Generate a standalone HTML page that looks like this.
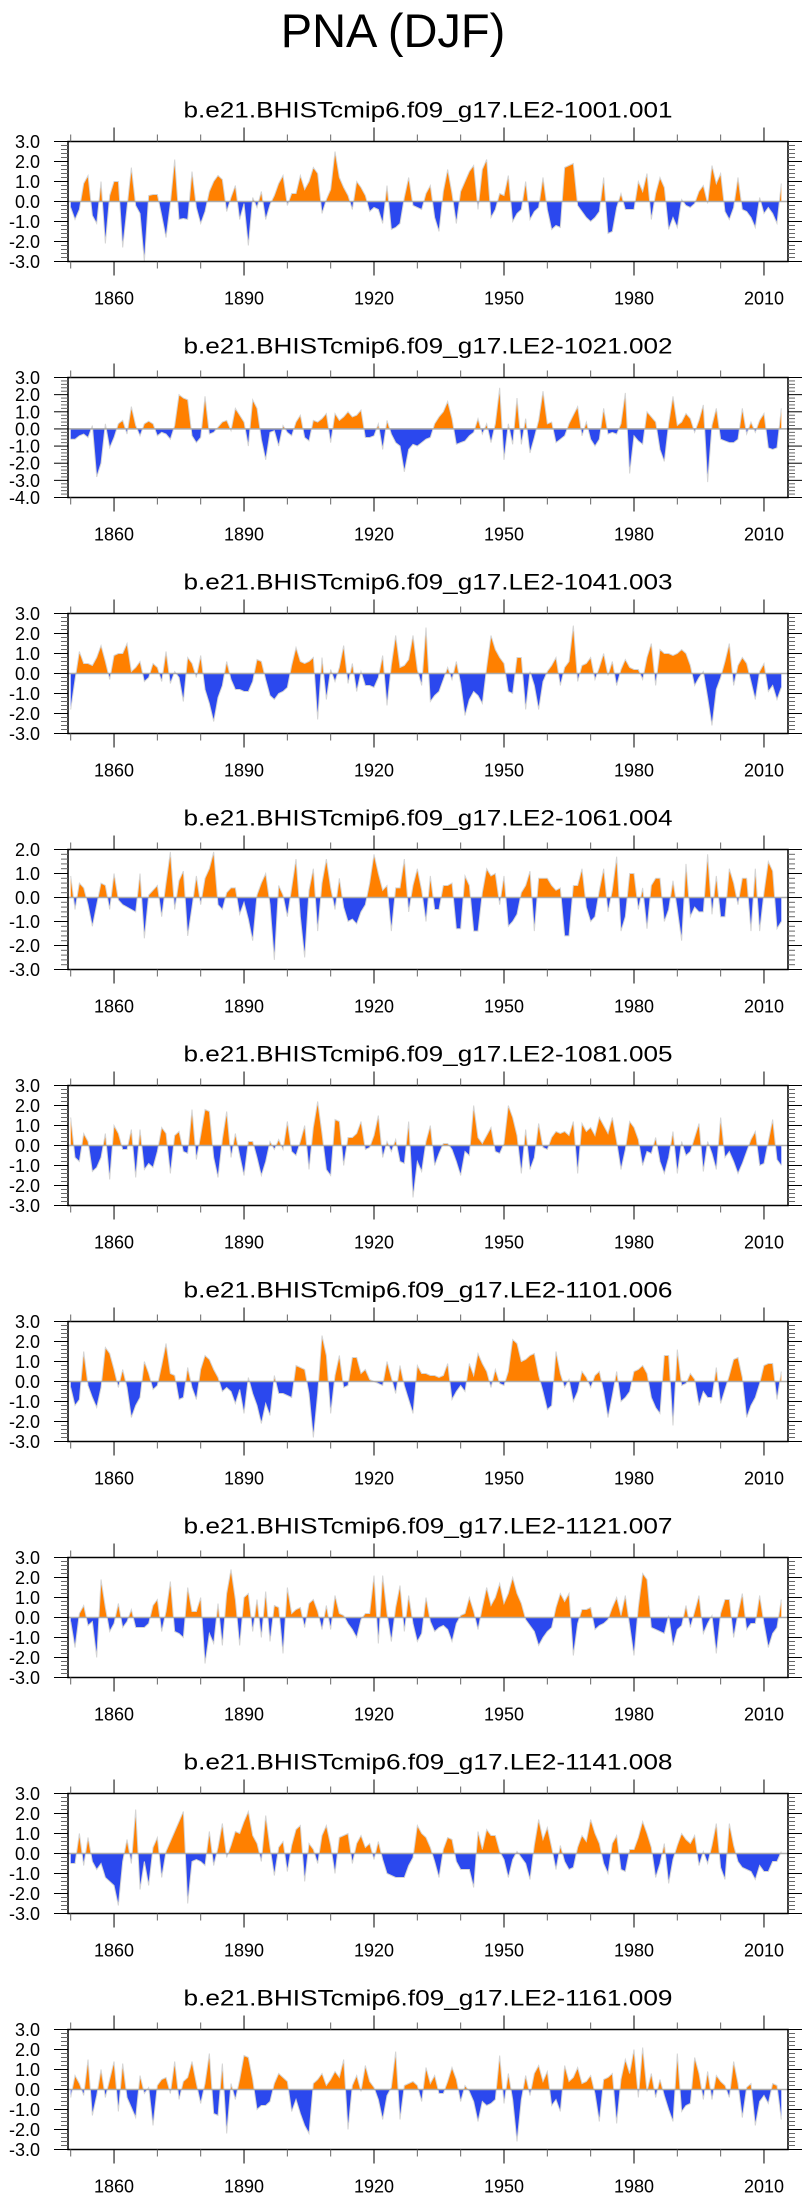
<!DOCTYPE html>
<html><head><meta charset="utf-8"><title>PNA (DJF)</title>
<style>
html,body{margin:0;padding:0;background:#fff;}
svg{display:block;font-family:"Liberation Sans",Arial,sans-serif;}
</style></head>
<body>
<svg id="chart" width="811" height="2201" viewBox="0 0 811 2201" xmlns="http://www.w3.org/2000/svg">
<text x="393" y="47" font-size="47" text-anchor="middle" fill="#000">PNA (DJF)</text>
</svg>
<script>
const runNames = ["b.e21.BHISTcmip6.f09_g17.LE2-1001.001","b.e21.BHISTcmip6.f09_g17.LE2-1021.002","b.e21.BHISTcmip6.f09_g17.LE2-1041.003","b.e21.BHISTcmip6.f09_g17.LE2-1061.004","b.e21.BHISTcmip6.f09_g17.LE2-1081.005","b.e21.BHISTcmip6.f09_g17.LE2-1101.006","b.e21.BHISTcmip6.f09_g17.LE2-1121.007","b.e21.BHISTcmip6.f09_g17.LE2-1141.008","b.e21.BHISTcmip6.f09_g17.LE2-1161.009"];
const yMaxes = [3,3,3,2,3,3,3,3,3];
const yMins = [-3,-4,-3,-3,-3,-3,-3,-3,-3];
const xTickYears = [1850,1860,1870,1880,1890,1900,1910,1920,1930,1940,1950,1960,1970,1980,1990,2000,2010];
const xLabelYears = [1860,1890,1920,1950,1980,2010];
const firstYear = 1850;

const vals1 = [-0.3,-0.9,-0.4,0.9,1.3,-0.7,-1.1,1.0,-2.1,0.3,1.0,1.0,-2.3,-0.3,1.7,-0.2,-0.6,-3.0,0.3,0.35,0.35,-0.7,-1.8,-0.1,2.1,-0.9,-0.85,-0.9,1.5,-0.3,-1.1,-0.5,0.5,1.0,1.3,1.1,-0.5,0.2,0.8,-0.9,-0.1,-2.2,0.2,-0.3,0.5,-0.9,-0.15,0.3,0.9,1.3,-0.2,0.4,0.4,1.3,0.6,1.0,1.7,1.4,-0.6,0.1,0.6,2.5,1.2,0.7,0.3,-0.4,1.0,0.7,0.3,-0.5,-0.3,-0.4,-1.1,0.8,-1.4,-1.3,-1.1,0.2,1.2,-0.2,-0.3,-0.4,0.4,0.8,-0.8,-1.5,0.5,1.6,0.4,-1.1,0.5,1.0,1.5,1.8,-0.4,1.6,2.1,-0.8,-0.4,0.4,0.3,1.3,-1.0,-0.6,-0.4,1.0,-0.9,-0.5,-0.3,1.2,-0.4,-1.4,-1.2,-1.3,1.7,1.8,1.9,-0.2,-0.5,-0.8,-1.0,-0.8,-0.5,1.2,-1.6,-1.5,-0.3,0.4,-0.4,-0.4,-0.4,1.0,0.5,1.4,-0.9,0.4,1.2,0.7,-1.4,-0.8,-1.3,0.1,-0.2,-0.3,-0.1,0.5,0.8,-0.1,1.8,0.9,1.4,-0.5,-0.9,-0.3,1.2,-0.4,-0.5,-0.8,-1.3,0.2,-0.6,-0.3,-0.6,-1.1,0.9];
const vals2 = [-0.6,-0.6,-0.4,-0.3,-0.5,0.2,-2.8,-2.0,0.3,-1.1,-0.5,0.3,0.5,-0.3,1.3,0.2,-0.4,0.3,0.45,0.3,-0.4,-0.2,-0.3,-0.6,0.2,2.0,1.8,1.7,-0.4,-0.8,-0.5,1.9,-0.3,-0.2,0.1,0.4,0.5,-0.1,1.2,0.8,0.4,-1.0,1.7,1.2,-0.6,-1.8,-0.2,-0.1,-1.0,0.2,-0.2,-0.4,0.4,0.8,-0.5,-0.7,0.5,0.4,0.6,0.9,-0.8,0.9,0.5,0.7,1.0,0.7,0.8,1.1,-0.5,-0.5,-0.4,0.3,-1.2,0.5,-0.3,-0.8,-1.0,-2.5,-1.2,-0.9,-1.0,-0.8,-0.6,-0.5,0.3,0.7,1.0,1.6,0.6,-0.9,-0.8,-0.7,-0.4,-0.2,0.6,-0.3,0.3,-0.8,0.3,2.4,-1.8,0.3,-0.9,1.8,-0.9,0.6,-1.4,-0.5,0.5,2.2,0.3,0.4,-0.8,-0.6,-0.4,0.3,0.8,1.3,-0.4,0.4,-0.6,-1.0,-0.6,1.2,-0.3,-0.2,-0.3,0.3,2.1,-2.6,-0.4,-0.7,-0.9,1.0,0.7,0.4,-1.2,-1.9,0.3,1.9,0.2,0.4,0.9,0.6,-0.2,0.5,1.4,-3.1,0.2,1.2,-0.6,-0.7,-0.8,-0.8,-0.6,1.2,-0.3,0.4,-0.2,0.5,0.9,-1.1,-1.2,-1.1,1.2];
const vals3 = [-1.8,-0.3,1.1,0.5,0.5,0.4,0.8,1.4,0.6,-0.3,0.9,1.0,1.0,1.5,0.1,0.3,0.6,-0.4,-0.2,0.5,0.3,-0.4,1.1,-0.5,0.1,-0.2,-1.4,0.8,0.5,-0.2,0.9,-0.8,-1.5,-2.4,-1.2,-0.6,0.6,-0.3,-0.8,-0.8,-0.9,-0.9,-0.4,0.7,0.6,-0.3,-1.1,-1.3,-1.0,-0.9,-0.7,0.4,1.3,0.6,0.5,0.6,0.8,-2.3,0.8,-1.3,0.2,-0.4,0.3,1.4,-0.5,0.5,-0.9,0.1,-0.6,-0.6,-0.7,-0.2,0.9,-1.6,0.4,1.9,0.3,0.4,0.7,1.9,0.2,-0.6,2.3,-1.4,-1.1,-0.9,-0.3,0.3,-0.3,0.6,-0.5,-2.1,-1.3,-0.9,-1.1,-1.5,0.3,1.9,1.2,0.8,0.5,-0.9,-1.0,0.8,0.8,-1.8,0.1,-0.6,-1.8,-0.4,0.1,0.4,0.8,-0.6,0.3,0.6,2.4,-0.4,0.4,0.5,0.8,-0.3,0.3,1.0,-0.1,0.6,-0.6,0.2,0.7,0.3,0.2,0.2,-0.3,0.8,1.5,-0.6,1.2,1.0,1.0,0.9,1.0,1.2,1.0,0.4,-0.6,-0.2,0.1,-1.2,-2.6,-0.8,-0.2,0.6,1.5,-0.6,0.4,0.8,0.5,-0.4,-1.3,0.1,0.5,-0.9,-0.6,-1.3,-0.7];
const vals4 = [0.9,-0.5,0.6,0.4,-0.3,-1.2,-0.3,0.6,0.5,-0.5,1.0,-0.1,-0.3,-0.4,-0.5,-0.6,1.0,-1.7,0.1,0.3,0.5,-0.8,0.6,1.9,-0.5,0.7,1.1,-1.6,-0.4,0.9,-0.3,0.8,1.2,1.9,-0.3,-0.5,0.2,0.4,0.4,-0.7,-0.2,-0.9,-1.8,0.1,0.6,1.0,-0.3,-2.6,0.5,0.1,-0.8,0.4,1.6,-0.8,-2.5,0.3,1.2,-1.4,0.6,1.6,0.4,-0.5,0.8,-0.4,-1.0,-0.9,-1.1,-0.6,-0.3,0.6,1.8,1.0,0.3,0.5,-1.4,0.4,0.4,1.6,-0.6,0.5,1.2,0.3,-1.0,0.9,-0.5,-0.5,0.5,0.5,0.6,-1.3,-1.3,0.9,0.5,-1.4,-1.4,0.2,1.2,0.9,1.0,-0.3,0.9,-1.2,-1.0,-0.7,0.2,0.5,1.1,-1.4,0.8,0.8,0.8,0.5,0.3,0.4,-1.6,-1.6,0.5,0.5,1.2,-0.4,-1.0,-0.8,0.3,1.2,-0.6,0.3,1.7,-1.4,-0.8,1.0,1.0,-0.5,0.4,-1.3,0.5,0.8,0.8,-1.0,-0.5,0.7,-0.5,-1.8,1.4,-0.8,-0.4,-0.6,-0.6,1.8,-0.7,0.9,-0.8,-0.8,1.2,0.6,-0.3,0.8,0.8,-1.4,1.2,-1.4,0.2,1.5,1.1,-1.3,-1.0];
const vals5 = [1.4,-0.6,-0.8,0.6,0.2,-1.3,-1.1,-0.6,0.6,-1.7,1.0,0.6,-0.2,-0.2,0.8,-1.6,0.8,-1.2,-0.9,-1.1,-0.3,0.9,0.6,-1.4,0.5,0.7,-0.3,-0.4,1.8,-0.7,0.5,1.8,1.7,-0.6,-1.6,0.3,1.7,-0.6,0.6,-0.5,-1.5,0.2,0.2,-0.6,-1.5,-0.8,0.2,-0.2,0.3,-0.2,1.2,-0.3,-0.5,0.2,1.0,-1.2,0.9,2.2,0.6,-1.2,-1.5,1.3,1.2,-1.0,0.4,0.4,0.6,1.2,-0.2,-0.1,0.5,1.5,-0.6,0.2,-0.3,0.3,-0.8,-0.9,1.2,-2.6,-0.8,-1.3,0.2,1.0,-1.0,-0.4,0.1,0.1,-0.2,-0.8,-1.5,-0.3,-0.5,2.0,0.4,0.1,0.5,0.9,-0.3,-0.4,0.1,2.0,1.4,0.5,-1.4,0.8,-1.2,-0.6,1.1,-0.1,-0.2,0.4,0.7,0.6,0.7,0.5,1.2,-1.4,1.1,0.7,0.9,0.5,1.4,1.0,0.6,1.4,0.2,-1.2,-0.2,1.2,0.9,0.3,-1.0,-0.3,-0.4,0.4,-0.8,-1.4,-0.6,0.7,-1.4,0.2,-0.5,-0.3,0.4,1.1,-1.3,0.2,-0.4,-1.2,1.4,-0.6,-0.3,-0.8,-1.4,-0.9,-0.3,0.3,0.7,-1.0,-0.9,0.2,1.3,-0.7,-1.0];
const vals6 = [-0.3,-1.2,-0.9,1.5,-0.2,-0.8,-1.3,-0.3,1.7,1.4,0.6,-0.3,0.6,-0.3,-1.8,-1.2,-0.8,1.0,0.4,-0.4,-0.2,0.8,1.9,0.4,0.3,-0.9,-0.8,0.7,-0.3,-0.9,0.6,1.3,1.1,0.6,0.2,-0.5,-0.3,-0.5,-1.1,-0.4,-1.6,0.2,-0.6,-1.2,-2.1,-1.1,-1.7,0.3,-0.6,-0.6,-0.7,-0.8,0.8,0.7,0.6,-0.6,-2.8,-0.6,2.3,1.3,-1.6,0.3,1.3,-0.3,-0.2,1.2,1.2,0.4,0.6,0.1,0.0,-0.1,-0.2,1.0,0.2,-0.6,0.8,-0.2,-0.9,-1.6,0.8,0.4,0.4,0.3,0.3,0.2,0.3,0.9,-0.9,-0.5,-0.2,-0.5,0.9,0.3,1.4,0.9,0.5,-0.3,0.6,-0.1,-0.2,0.5,2.1,1.9,1.0,1.1,1.3,1.4,0.3,-0.5,-1.4,-1.2,1.5,0.4,-0.3,0.1,-1.0,-0.5,0.5,0.2,-0.3,0.3,0.5,-0.5,-1.8,-0.7,0.5,-1.0,-0.8,-0.5,0.5,0.6,0.8,0.4,-0.8,-1.3,-1.6,1.3,1.3,-2.2,1.6,-0.2,-0.1,0.4,0.1,-1.2,-0.5,-0.8,-0.8,0.7,-1.1,-0.4,0.3,1.1,1.2,0.2,-1.8,-1.2,-0.8,-0.1,0.8,0.9,0.9,-0.9,0.5];
const vals7 = [-0.2,-1.5,0.2,0.6,-0.4,-0.2,-2.0,1.9,0.5,-0.7,-0.3,0.7,-0.5,-0.2,0.4,-0.5,-0.5,-0.5,-0.3,0.6,0.9,-0.7,0.3,1.8,-0.7,-0.8,-1.0,1.5,0.3,0.3,1.0,-2.3,-0.8,-1.3,0.7,-1.4,1.2,2.4,0.9,-1.4,1.0,1.2,-0.7,0.9,-1.0,1.3,-1.2,0.6,0.5,-1.8,1.5,0.2,0.4,0.5,-0.5,0.7,0.9,0.3,-0.6,0.6,-0.6,1.1,0.2,0.1,-0.3,-0.6,-1.0,-0.1,0.2,0.2,2.1,-1.3,2.1,0.2,-1.2,0.5,1.6,-0.7,1.1,-0.3,-1.2,-0.8,1.0,-0.2,-0.7,-0.5,-0.4,-0.6,-1.2,-0.3,0.1,0.2,1.0,0.3,-0.6,0.5,1.5,0.6,1.0,1.7,0.7,1.2,2.0,1.2,0.7,-0.1,-0.4,-0.7,-1.4,-1.0,-0.7,-0.5,0.5,1.2,0.8,1.2,-1.9,-0.3,0.4,0.4,0.5,-0.6,-0.4,-0.3,-0.1,0.5,1.0,0.1,1.1,-0.4,-1.9,0.5,2.2,1.9,-0.5,-0.6,-0.7,-0.8,0.1,-1.4,-0.6,-0.4,0.6,-0.5,0.3,1.1,-0.8,-0.3,0.1,-1.8,0.2,0.9,0.9,-1.0,0.2,1.2,-0.6,-0.3,-0.3,1.1,-0.3,-1.5,-0.8,-0.5,0.9];
const vals8 = [-0.5,-0.5,1.0,-0.6,0.8,-0.4,-0.8,-0.5,-1.2,-1.4,-1.6,-2.6,-0.4,0.7,-0.5,2.2,-1.8,-0.4,-1.6,0.3,0.8,-1.2,0.1,0.6,1.1,1.6,2.1,-2.5,-0.4,-0.3,-0.4,-0.6,1.1,-0.6,0.3,1.5,-0.2,0.4,1.1,1.0,1.6,2.1,0.9,0.5,-0.4,1.9,0.3,-1.1,0.3,0.6,-0.9,0.4,1.2,1.4,-1.4,0.5,0.2,-0.5,0.9,1.4,0.4,-1.0,0.8,0.9,1.0,-0.5,0.5,0.9,0.3,0.5,-0.3,0.6,-0.3,-1.0,-1.1,-1.2,-1.2,-1.2,-0.6,-0.2,1.4,1.0,0.8,0.3,-0.4,-1.2,0.2,0.8,0.7,-0.4,-0.8,-0.8,-0.8,-1.7,1.1,0.2,1.2,0.9,0.9,0.1,-0.3,-1.2,-0.3,0.1,-0.2,-0.5,-1.3,0.4,1.7,0.7,1.3,0.3,-0.8,0.4,-0.4,-0.8,-0.7,0.3,0.9,0.6,1.7,1.0,0.5,-0.5,-1.0,0.5,0.9,-0.8,-0.9,0.2,0.2,0.8,1.6,1.0,0.3,-1.2,-0.5,0.5,-1.5,-0.3,0.4,1.0,0.7,0.5,0.9,-0.6,0.1,-0.5,0.4,1.5,-0.7,-1.3,1.5,0.4,-0.4,-0.7,-0.8,-0.9,-1.3,-0.6,-0.9,-0.9,-0.4,-0.4,0.1];
const vals9 = [-0.4,0.7,0.3,-0.3,1.5,-1.3,-0.3,1.0,-0.4,0.5,1.4,-1.1,1.3,-0.4,-0.9,-1.4,0.7,-0.2,0.1,-1.8,0.2,0.5,0.6,-0.2,1.4,-0.5,0.4,0.6,1.4,0.3,-0.7,0.3,1.8,-1.2,-1.3,1.3,-2.2,0.3,-0.5,0.5,1.7,1.6,0.5,-1.0,-0.8,-0.8,-0.6,0.3,0.8,0.6,0.4,-1.1,-0.5,-1.2,-1.8,-2.2,0.3,0.5,0.8,0.2,0.5,0.9,0.6,1.5,-2.0,0.2,0.7,-0.1,1.2,0.4,0.1,-0.5,-1.5,-0.3,0.1,1.9,-1.5,0.2,0.3,0.4,0.2,-0.6,1.1,0.3,0.7,-0.2,-0.2,0.4,1.1,0.5,-0.6,0.2,-0.1,-0.6,-1.6,-0.6,-0.8,-0.7,-0.5,1.7,-0.7,0.8,-0.5,-2.6,-0.5,0.7,-0.3,0.8,1.2,0.4,0.9,-0.8,-0.5,-1.1,1.2,0.4,0.6,1.1,0.3,0.4,0.7,-0.2,-1.6,0.5,0.6,0.8,-1.7,0.5,1.5,0.8,2.0,-0.4,2.1,-0.1,0.8,-0.4,0.5,-0.3,-1.0,-1.6,1.8,-1.1,-0.8,-0.7,1.6,0.8,-0.5,0.9,-0.5,0.7,0.4,0.2,-0.4,1.4,0.3,-1.4,0.1,0.3,-1.8,-0.6,-0.3,-0.7,0.3,0.2,-1.5];
const allVals = [vals1,vals2,vals3,vals4,vals5,vals6,vals7,vals8,vals9];

const NS = 'http://www.w3.org/2000/svg';
const svg = document.getElementById('chart');
function mk(tag, attrs, parent) {
  const e = document.createElementNS(NS, tag);
  for (const k in attrs) e.setAttribute(k, attrs[k]);
  parent.appendChild(e);
  return e;
}
const PLOT_L = 68, PLOT_R = 788, PLOT_H = 120, TOP0 = 141.5, STEP = 236;
function xScale(yr) { return 70.7 + (yr - 1850) * 4.333; }

allVals.forEach((vals, p) => {
  const top = TOP0 + STEP * p, bottom = top + PLOT_H;
  const ymax = yMaxes[p], ymin = yMins[p];
  const yScale = v => top + (ymax - v) / (ymax - ymin) * PLOT_H;
  const y0 = yScale(0);

  const g = mk('g', {}, svg);
  
  

  const st = mk('text', {x: 428, y: top - 24, 'font-size': 22, 'text-anchor': 'middle', fill: '#000', textLength: 489, lengthAdjust: 'spacingAndGlyphs'}, g);
  
  
  st.textContent = runNames[p];

  const cu = mk('clipPath', {id: 'cu' + p}, g);
  mk('rect', {x: PLOT_L, y: top, width: PLOT_R - PLOT_L, height: y0 - top}, cu);
  const cd = mk('clipPath', {id: 'cd' + p}, g);
  mk('rect', {x: PLOT_L, y: y0, width: PLOT_R - PLOT_L, height: bottom - y0}, cd);

  let d = 'M' + xScale(firstYear).toFixed(2) + ',' + y0.toFixed(2);
  let line = '';
  vals.forEach((v, i) => {
    const px = xScale(firstYear + i).toFixed(2), py = yScale(v).toFixed(2);
    d += ' L' + px + ',' + py;
    line += (i ? ' L' : 'M') + px + ',' + py;
  });
  d += ' L' + xScale(firstYear + vals.length - 1).toFixed(2) + ',' + y0.toFixed(2) + ' Z';

  const pos = mk('path', {d: d, fill: '#ff8000', 'clip-path': 'url(#cu' + p + ')'}, g);
  
  
  const neg = mk('path', {d: d, fill: '#2b48ee', 'clip-path': 'url(#cd' + p + ')'}, g);
  
  
  const ln = mk('path', {d: line, fill: 'none', stroke: '#d4d4d4', 'stroke-width': 1}, g);
  
  
  const zl = mk('line', {x1: PLOT_L, x2: PLOT_R, y1: y0, y2: y0, stroke: '#aaaaaa', 'stroke-width': 1.5}, g);
  
  

  const fr = mk('rect', {x: PLOT_L, y: top, width: PLOT_R - PLOT_L, height: PLOT_H, fill: 'none', stroke: '#000', 'stroke-width': 1.5}, g);
  
  

  const nMinor = Math.round((ymax - ymin) / 0.2);
  for (let k = 0; k <= nMinor; k++) {
    const v = ymin + k * 0.2;
    const major = Math.abs(v - Math.round(v)) < 1e-6;
    const len = major ? 14 : 7;
    const y = yScale(v);
    const c = major ? '#000' : '#666';
    const t1 = mk('line', {x1: PLOT_L - len, x2: PLOT_L, y1: y, y2: y, stroke: c, 'stroke-width': 1}, g);
    
    
    const t2 = mk('line', {x1: PLOT_R, x2: PLOT_R + len, y1: y, y2: y, stroke: c, 'stroke-width': 1}, g);
    
    
    if (major) {
      const lb = mk('text', {x: 40, y: y + 6.5, 'font-size': 18, 'text-anchor': 'end', fill: '#000'}, g);
      
      
      lb.textContent = Math.round(v).toFixed(1);
    }
  }
  xTickYears.forEach(yr => {
    const major = xLabelYears.indexOf(yr) >= 0;
    const len = major ? 14 : 7;
    const x = xScale(yr);
    const c = major ? '#000' : '#666';
    const b = mk('line', {x1: x, x2: x, y1: bottom, y2: bottom + len, stroke: c, 'stroke-width': 1}, g);
    
    
    const t = mk('line', {x1: x, x2: x, y1: top - len, y2: top, stroke: c, 'stroke-width': 1}, g);
    
    
  });
  xLabelYears.forEach(yr => {
    const lb = mk('text', {x: xScale(yr), y: bottom + 43, 'font-size': 18, 'text-anchor': 'middle', fill: '#000'}, g);
    
    
    lb.textContent = String(yr);
  });
});
</script>
</body></html>
